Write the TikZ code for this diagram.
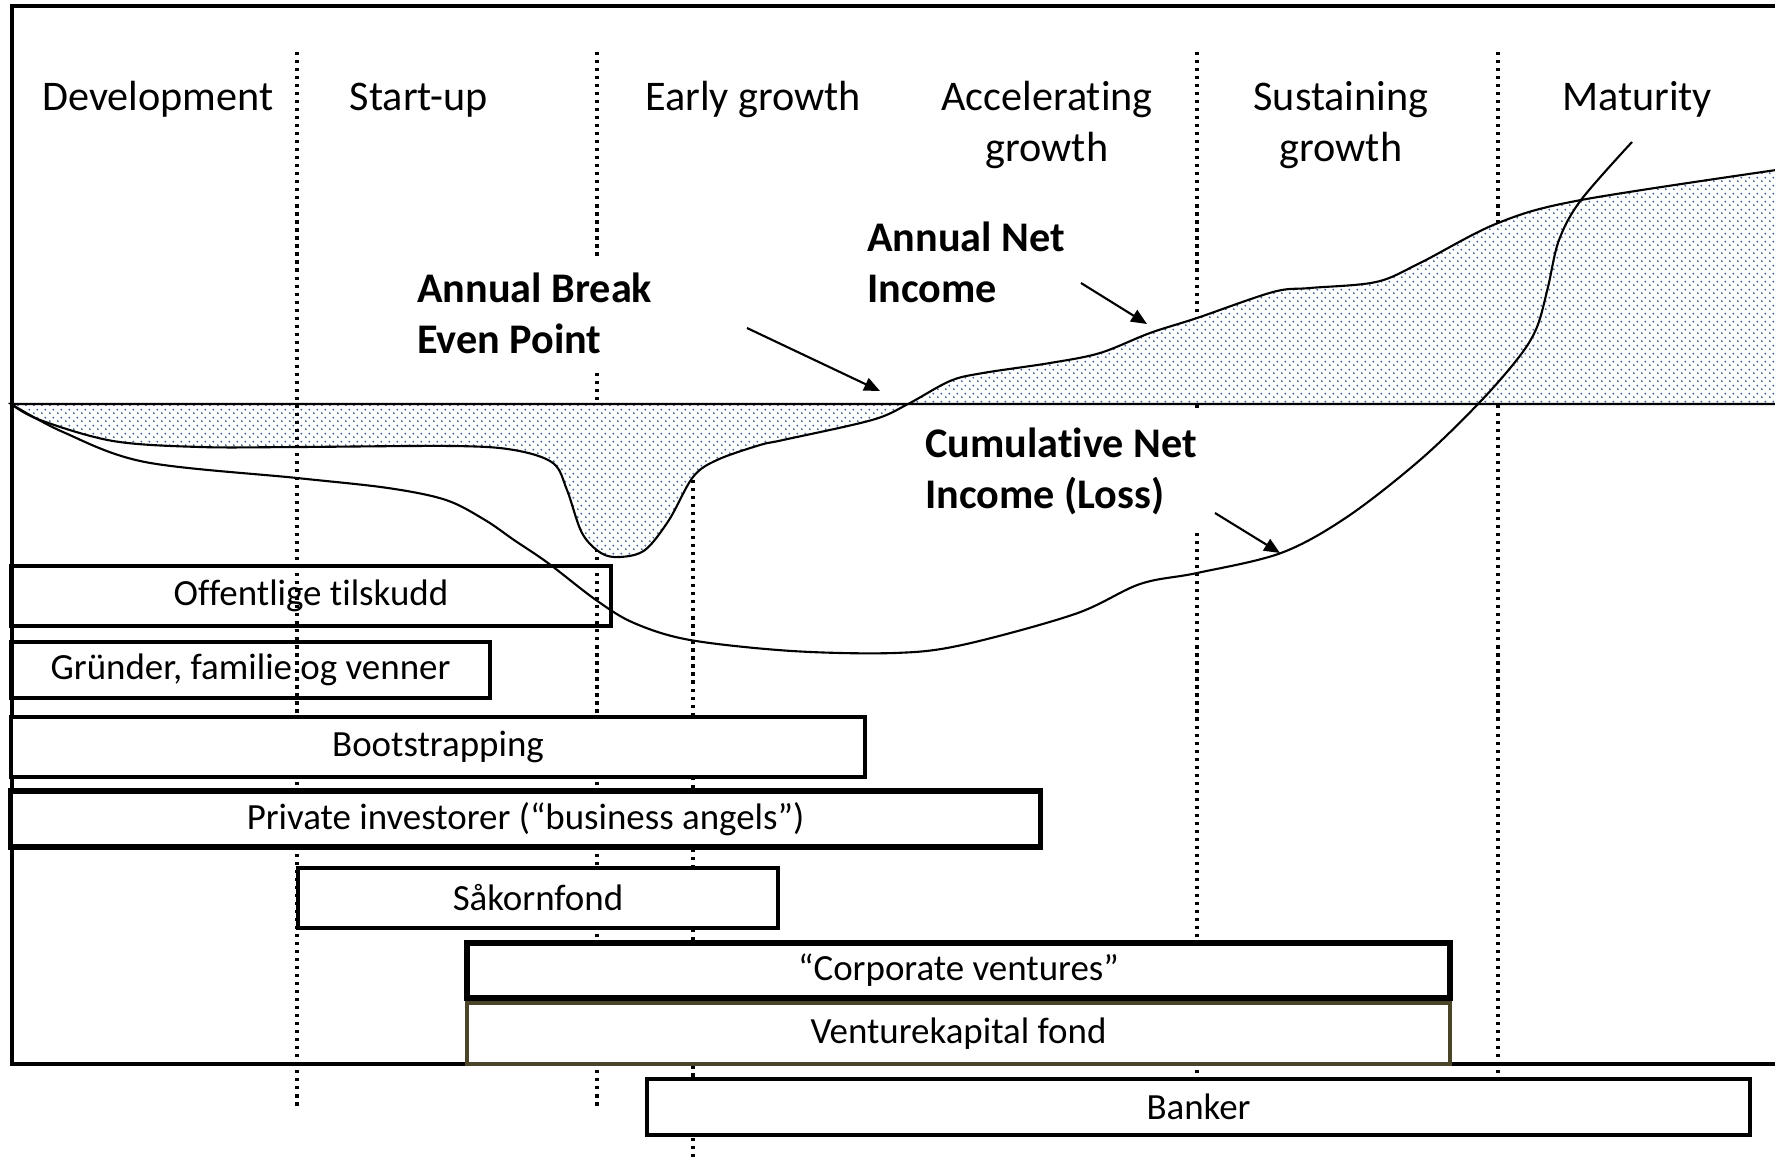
\documentclass[tikz,border=0pt]{standalone}
\usepackage{fontspec}
\setmainfont{Carlito}[Ligatures=NoCommon]
\usetikzlibrary{arrows.meta,patterns.meta}
\definecolor{dotblue}{RGB}{68,104,158}
\definecolor{ventolive}{RGB}{74,68,40}
\pgfdeclarepattern{
  name=finedots, type=uncolored,
  bottom left={\pgfpoint{0pt}{0pt}}, top right={\pgfpoint{2.28pt}{2.28pt}},
  tile size={\pgfpoint{2.28pt}{2.28pt}},
  code={\pgfpathcircle{\pgfpoint{0.57pt}{0.57pt}}{0.32pt}\pgfpathcircle{\pgfpoint{1.71pt}{1.71pt}}{0.32pt}\pgfusepath{fill}}
}
\begin{document}
\begin{tikzpicture}[x=0.01cm,y=-0.01cm,
  phase/.style={font=\fontsize{12}{14.5}\selectfont, align=center, anchor=base, inner sep=0pt},
  lbl/.style={font=\fontsize{12}{14.3}\selectfont\bfseries, align=left, anchor=base west, inner sep=5pt},
  finbox/.style={draw, line width=1.15pt, font=\fontsize{10.5}{12}\selectfont, inner sep=0pt},
  divider/.style={line width=0.9pt, dash pattern=on 0.9pt off 1.38pt},
  curve/.style={line width=0.6pt},
  pointer/.style={line width=0.6pt, -{Triangle[length=4.5pt,width=3.8pt]}}]
\useasboundingbox (0,0) rectangle (1775,1160);
\clip (0,0) rectangle (1775,1160);
\fill[white] (0,0) rectangle (1775,1160);

% dividers behind the shading
\draw[divider] (597,52) -- (597,1109);
\draw[divider] (1197,52) -- (1197,1079);
\draw[divider] (1498,52) -- (1498,1079);
\draw[divider] (693,464) -- (693,1160);

% annual net income curve with shaded area and zero line
\draw[curve, preaction={fill=white}, pattern=finedots, pattern color=dotblue]
  plot[smooth, tension=0.55] coordinates {(11,404) (40,420) (113,441) (200,447) (297,447) (453,446) (514,450) (553,463) (567,490) (582,533) (601,553) (620,557) (645,550) (669,520) (693,477) (717,460) (760,445) (783,440) (872,420) (908,404) (950,381) (983,373) (1050,363) (1100,353) (1150,333) (1197,318) (1273,292) (1310,288) (1376,282) (1420,263) (1498,223) (1581,200) (1790,168)}
  -- (1790,404) -- cycle;

\draw[divider] (297,52) -- (297,1109);

% outer frame
\draw[line width=0.9pt] (12,6) rectangle (1800,1064);

% financing boxes
\node[finbox, minimum width=6.00cm, minimum height=0.60cm] (off) at (311,596) {Offentlige tilskudd};
\node[finbox, minimum width=4.79cm, minimum height=0.56cm] (grn) at (250.5,670) {Gründer, familie og venner};
\node[finbox, fill=white, minimum width=8.54cm, minimum height=0.60cm] (boot) at (438,747) {Bootstrapping};
\node[finbox, fill=white, line width=1.45pt, minimum width=10.29cm, minimum height=0.56cm] (priv) at (525.5,819) {Private investorer (“business angels”)};
\node[finbox, fill=white, minimum width=4.80cm, minimum height=0.60cm] (sak) at (538,898) {Såkornfond};
\node[finbox, fill=white, line width=1.6pt, minimum width=9.83cm, minimum height=0.55cm] (corp) at (958.5,970.5) {“Corporate ventures”};
\node[finbox, fill=white, draw=ventolive, line width=1.25pt, minimum width=9.83cm, minimum height=0.61cm] (vent) at (958.5,1033.5) {Venturekapital fond};
\node[finbox, fill=white, minimum width=11.03cm, minimum height=0.56cm] (bank) at (1198.5,1107) {Banker};

% cumulative net income curve
\draw[curve] plot[smooth, tension=0.55] coordinates {(11,404) (63,432) (145,462) (297,478) (388,488) (446,500) (485,520) (514,540) (548,563) (596,600) (634,623) (690,640) (792,651) (894,653) (962,645) (1075,614) (1140,584) (1197,573) (1281,553) (1347,517) (1420,460) (1479,403) (1519,357) (1537,327) (1548,287) (1559,240) (1581,200) (1632,142)};

% phase labels
\node[phase] (dev) at (158,110) {Development};
\node[phase] (stu) at (419,110) {Start-up};
\node[phase] (eg) at (753,110) {Early growth};
\node[phase] (acc) at (1047,161) {Accelerating\\growth};
\node[phase] (sus) at (1341,161) {Sustaining\\growth};
\node[phase] (mat) at (1637,110) {Maturity};

% curve labels
\node[lbl, fill=white] (be) at (399,353) {Annual Break\\Even Point};
\node[lbl] (ani) at (849,302) {Annual Net\\Income};
\node[lbl, fill=white] (cni) at (907,508) {Cumulative Net\\Income (Loss)};

% pointers
\coordinate (beS) at (747,328);
\coordinate (beT) at (880,391);
\coordinate (aniS) at (1081,283);
\coordinate (aniT) at (1147,324);
\coordinate (cniS) at (1215,513);
\coordinate (cniT) at (1280,553);
\draw[pointer] (beS) -- (beT);
\draw[pointer] (aniS) -- (aniT);
\draw[pointer] (cniS) -- (cniT);
\end{tikzpicture}
\end{document}
